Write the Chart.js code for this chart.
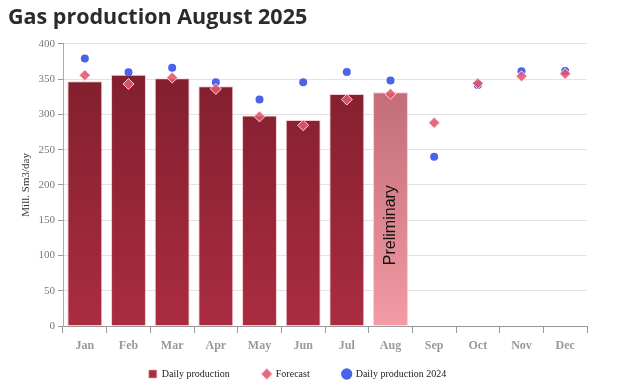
<!DOCTYPE html>
<html><head><meta charset="utf-8">
<script src="https://cdn.jsdelivr.net/npm/chart.js@4"></script>
<style>html,body{margin:0;padding:0;background:#fff}#wrap{width:618px;height:385px}</style>
</head><body><div id="wrap"><canvas id="c" width="618" height="385"></canvas></div>
<script>
const months = ["Jan","Feb","Mar","Apr","May","Jun","Jul","Aug","Sep","Oct","Nov","Dec"];
const dailyProduction = [347, 356, 351, 340, 298.5, 292, 329, 331.5, null, null, null, null];
const forecast = [355.5, 343, 352, 336, 297, 284.5, 321, 329, 288, 344, 354, 357.5];
const production2024 = [379, 359.5, 366, 345.5, 321, 345.5, 360, 348, 240, 341.5, 361, 361.5];
const yTicks = [0, 50, 100, 150, 200, 250, 300, 350, 400];
const preliminaryIndex = 7;
const preliminaryLabel = "Preliminary";

function barFill(ctx) {
  const chart = ctx.chart; const a = chart.chartArea;
  const prelim = ctx.dataIndex === preliminaryIndex;
  if (!a) return prelim ? '#d9858f' : '#962536';
  const g = chart.ctx.createLinearGradient(0, a.top, 0, a.bottom);
  if (prelim) { g.addColorStop(0, '#b8646f'); g.addColorStop(1, '#f39aa4'); }
  else { g.addColorStop(0, '#7d1e2b'); g.addColorStop(1, '#aa2c40'); }
  return g;
}

const prelimPlugin = {
  id: 'prelim',
  afterLayout(chart) {
    const lg = chart.legend;
    if (lg) { lg.top -= 17; }
  },
  afterDatasetsDraw(chart) {
    const meta = chart.getDatasetMeta(0);
    const el = meta.data[preliminaryIndex];
    if (!el) return;
    const c = chart.ctx;
    const cy = el.y + (el.base - el.y) * 0.57;
    c.save();
    c.translate(el.x, cy);
    c.rotate(-Math.PI / 2);
    c.fillStyle = '#111';
    c.font = '16px "Liberation Sans", Arial, sans-serif';
    c.textAlign = 'center'; c.textBaseline = 'middle';
    c.fillText(preliminaryLabel, 0, 0);
    c.restore();
  }
};

const serif = '"Liberation Serif", "Times New Roman", serif';

new Chart(document.getElementById('c'), {
  data: {
    labels: months,
    datasets: [
      { type: 'bar', label: 'Daily production', data: dailyProduction, order: 3,
        backgroundColor: barFill, borderColor: 'rgba(240,170,180,0.6)', borderWidth: 1,
        barPercentage: 0.8, categoryPercentage: 1.0, pointStyle: 'rect' },
      { type: 'line', label: 'Forecast', data: forecast, order: 1, showLine: false,
        pointStyle: 'rectRot', pointRadius: 5.5, pointHoverRadius: 5.5,
        backgroundColor: 'rgba(226,86,108,0.88)', borderColor: 'rgba(255,225,230,0.9)', borderWidth: 1 },
      { type: 'line', label: 'Daily production 2024', data: production2024, order: 2, showLine: false,
        pointStyle: 'circle', pointRadius: 4, pointHoverRadius: 4,
        backgroundColor: '#4a63ea', borderColor: '#4a63ea', borderWidth: 0 }
    ]
  },
  options: {
    responsive: false, animation: false, devicePixelRatio: 1,
    layout: { padding: { left: 8, right: 31, top: 0, bottom: 0 } },
    plugins: {
      title: { display: true, text: 'Gas production August 2025', align: 'start',
        color: '#2b2b2b', font: { family: '"Open Sans", sans-serif', size: 21.5, weight: 'bold' },
        padding: { top: 5, bottom: 13 } },
      legend: { position: 'bottom', maxHeight: 32,
        labels: { usePointStyle: true, boxWidth: 8, boxHeight: 8, padding: 33,
          color: '#222', font: { family: serif, size: 10 },
          sort: (a, b) => a.datasetIndex - b.datasetIndex } },
      tooltip: { enabled: false }
    },
    scales: {
      x: { type: 'category', offset: true,
        grid: { offset: true, drawOnChartArea: false, drawTicks: true, tickLength: 7, color: '#999' },
        border: { color: '#999', width: 1 },
        ticks: { color: '#999', font: { family: serif, size: 12, weight: 'bold' }, padding: 6 },
        afterFit(s) { s.height = 27; } },
      y: { min: 0, max: 400,
        afterBuildTicks(s) { s.ticks = yTicks.map(v => ({ value: v })); },
        grid: { color: '#e3e3e3', tickLength: 5, tickColor: '#999' },
        border: { color: '#aaa', width: 1 },
        ticks: { color: '#777', font: { family: serif, size: 11 }, padding: 3 },
        title: { display: true, text: 'Mill. Sm3/day', color: '#333', font: { family: serif, size: 11 }, padding: { top: 12, bottom: 0 } },
        afterFit(s) { s.width = 55; } }
    }
  },
  plugins: [prelimPlugin]
});
</script></body></html>
